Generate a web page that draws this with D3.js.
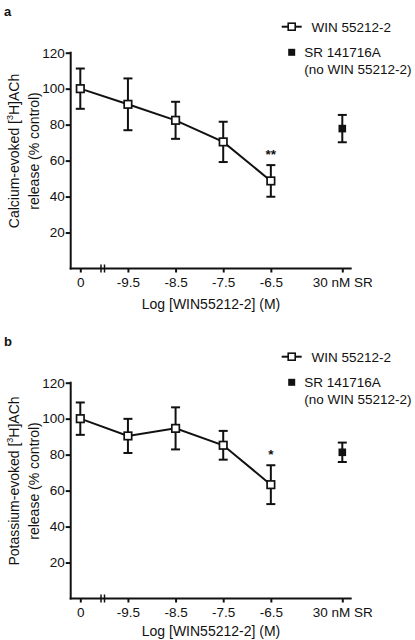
<!DOCTYPE html>
<html><head><meta charset="utf-8">
<script src="https://cdn.jsdelivr.net/npm/d3@7"></script>
<style>
body{margin:0;background:#fff;}
svg text{font-family:"Liberation Sans",Arial,Helvetica,sans-serif;fill:#111;}
</style></head>
<body><svg id="c" width="415" height="640"></svg>
<script>
// ---- data ----
const doseLabels = ["0", "-9.5", "-8.5", "-7.5", "-6.5"];
const srLabel = "30 nM SR";
const yTicks = [20, 40, 60, 80, 100, 120];
const calciumMean = [100, 91.3, 82.4, 70.4, 48.7];
const calciumErr = [11.2, 14.4, 10.3, 11.2, 8.8];
const calciumSR = [77.8];
const calciumSRErr = [7.6];
const potassiumMean = [100, 90.4, 94.6, 85.2, 63.3];
const potassiumErr = [9.0, 9.5, 11.7, 8.0, 10.8];
const potassiumSR = [81.3];
const potassiumSRErr = [5.4];
const calciumSig = ["", "", "", "", "**"];
const potassiumSig = ["", "", "", "", "*"];
const panelLetters = ["a", "b"];
const yTitles = [["Calcium-evoked [", "3", "H]ACh"], ["Potassium-evoked [", "3", "H]ACh"]];
const yTitle2 = "release (% control)";
const xTitle = "Log [WIN55212-2] (M)";
const legendWin = "WIN 55212-2";
const legendSR = ["SR 141716A", "(no WIN 55212-2)"];

const svg = d3.select("#c");

function panel(off, means, errs, srMean, srErr, sig, letter, ytitle, xTitleY) {
  const g = svg.append("g").attr("transform", `translate(0,${off})`);
  const slots = doseLabels.map((d, i) => i).concat([doseLabels.length + 0.5]);
  const allLabels = doseLabels.concat([srLabel]);
  const x = d3.scaleLinear().domain([0, doseLabels.length + 0.5]).range([80.3, 342.3]);
  const y = d3.scaleLinear().domain([0, 120]).range([268.5, 52.7]);
  const axisX0 = 70.7, axisX1 = 351.7;

  // y axis
  const yAx = g.append("g").attr("transform", `translate(${axisX0},0)`)
    .call(d3.axisLeft(y).tickValues(yTicks).tickSize(5).tickSizeOuter(0).tickPadding(1));
  yAx.select(".domain").remove();
  yAx.selectAll(".tick line").attr("stroke", "#111").attr("stroke-width", 2);
  yAx.selectAll(".tick text").attr("font-size", 13.5).attr("font-family", "Liberation Sans, Arial, sans-serif").attr("fill", "#111");
  g.append("line").attr("x1", axisX0).attr("x2", axisX0).attr("y1", y(120) - 1).attr("y2", y(0) + 1)
    .attr("stroke", "#111").attr("stroke-width", 2);

  // x axis
  const xAx = g.append("g").attr("transform", `translate(0,${y(0)})`)
    .call(d3.axisBottom(x).tickValues(slots).tickFormat((d, i) => allLabels[i]).tickSize(4).tickSizeOuter(0).tickPadding(5));
  xAx.select(".domain").remove();
  xAx.selectAll(".tick line").attr("stroke", "#111").attr("stroke-width", 2);
  xAx.selectAll(".tick text").attr("font-size", 13.5).attr("font-family", "Liberation Sans, Arial, sans-serif").attr("fill", "#111");
  g.append("line").attr("x1", axisX0 - 1).attr("x2", axisX1).attr("y1", y(0)).attr("y2", y(0))
    .attr("stroke", "#111").attr("stroke-width", 2);
  // axis break marks
  [101, 104.5].forEach(bx => {
    g.append("line").attr("x1", bx).attr("x2", bx).attr("y1", y(0) - 4).attr("y2", y(0) + 4)
      .attr("stroke", "#111").attr("stroke-width", 1.5);
  });

  // line
  const pts = means.map((m, i) => ({ x: x(slots[i]), y: y(m), lo: y(m - errs[i]), hi: y(m + errs[i]) }));
  g.append("path").datum(pts).attr("d", d3.line().x(d => d.x).y(d => d.y))
    .attr("fill", "none").attr("stroke", "#111").attr("stroke-width", 2);

  const srPts = srMean.map((m, i) => ({ x: x(slots[slots.length - 1]), y: y(m), lo: y(m - srErr[i]), hi: y(m + srErr[i]) }));
  const eb = pts.concat(srPts);
  const cap = 4.5;
  eb.forEach(d => {
    g.append("line").attr("x1", d.x).attr("x2", d.x).attr("y1", d.hi).attr("y2", d.lo).attr("stroke", "#111").attr("stroke-width", 2);
    g.append("line").attr("x1", d.x - cap).attr("x2", d.x + cap).attr("y1", d.hi).attr("y2", d.hi).attr("stroke", "#111").attr("stroke-width", 2);
    g.append("line").attr("x1", d.x - cap).attr("x2", d.x + cap).attr("y1", d.lo).attr("y2", d.lo).attr("stroke", "#111").attr("stroke-width", 2);
  });
  const s = 7.5;
  g.selectAll(".sq").data(pts).enter().append("rect")
    .attr("x", d => d.x - s / 2).attr("y", d => d.y - s / 2).attr("width", s).attr("height", s)
    .attr("fill", "#fff").attr("stroke", "#111").attr("stroke-width", 1.7);
  g.selectAll(".fsq").data(srPts).enter().append("rect")
    .attr("x", d => d.x - 3.8).attr("y", d => d.y - 3.8).attr("width", 7.6).attr("height", 7.6)
    .attr("fill", "#111");

  // significance
  sig.forEach((t, i) => {
    if (!t) return;
    g.append("text").attr("x", x(slots[i])).attr("y", pts[i].hi - 6.5).attr("text-anchor", "middle")
      .attr("font-size", 13.5).attr("font-weight", "bold").text(t);
  });

  // panel letter
  g.append("text").attr("x", 4).attr("y", 15.5).attr("font-size", 13).attr("font-weight", "bold").text(letter);

  // y title
  const t1 = g.append("text").attr("transform", `translate(18.5,151) rotate(-90)`).attr("text-anchor", "middle").attr("font-size", 14);
  t1.append("tspan").text(ytitle[0]);
  t1.append("tspan").attr("font-size", 9).attr("dy", -6).text(ytitle[1]);
  t1.append("tspan").attr("dy", 6).text(ytitle[2]);
  g.append("text").attr("transform", `translate(38.5,151) rotate(-90)`).attr("text-anchor", "middle").attr("font-size", 14).text(yTitle2);

  // x title
  g.append("text").attr("x", 211).attr("y", xTitleY).attr("text-anchor", "middle").attr("font-size", 14).text(xTitle);

  // legend
  g.append("line").attr("x1", 281.7).attr("x2", 301.7).attr("y1", 26.7).attr("y2", 26.7).attr("stroke", "#111").attr("stroke-width", 2);
  g.append("rect").attr("x", 291.7 - 3.5).attr("y", 26.7 - 3.5).attr("width", 7).attr("height", 7)
    .attr("fill", "#fff").attr("stroke", "#111").attr("stroke-width", 1.6);
  g.append("text").attr("x", 311.5).attr("y", 31.5).attr("font-size", 13.5).text(legendWin);
  g.append("rect").attr("x", 291.7 - 3.5).attr("y", 52.3 - 3.5).attr("width", 7).attr("height", 7).attr("fill", "#111");
  g.append("text").attr("x", 304.3).attr("y", 57).attr("font-size", 13.5).text(legendSR[0]);
  g.append("text").attr("x", 304.3).attr("y", 74).attr("font-size", 13.5).text(legendSR[1]);
}

panel(0, calciumMean, calciumErr, calciumSR, calciumSRErr, calciumSig, panelLetters[0], yTitles[0], 309);
panel(330, potassiumMean, potassiumErr, potassiumSR, potassiumSRErr, potassiumSig, panelLetters[1], yTitles[1], 305.5);
</script>
</body></html>
